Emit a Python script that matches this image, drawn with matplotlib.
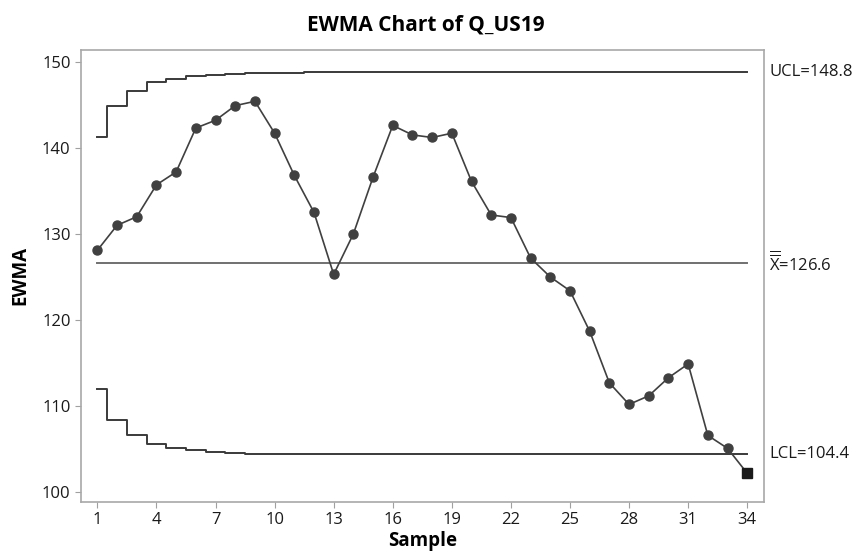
import matplotlib
matplotlib.use("Agg")
import matplotlib.pyplot as plt
import matplotlib.transforms as mtransforms

plt.rcParams['font.family'] = ['Open Sans', 'DejaVu Sans']
plt.rcParams['mathtext.fontset'] = 'custom'
plt.rcParams['mathtext.rm'] = 'Open Sans'

# data
samples = list(range(1, 35))
ewma = [128.1, 131.0, 132.0, 135.7, 137.2, 142.3, 143.2, 144.9, 145.4, 141.7,
        136.8, 132.5, 125.3, 130.0, 136.6, 142.6, 141.5, 141.2, 141.7, 136.1,
        132.2, 131.9, 127.2, 125.0, 123.4, 118.7, 112.7, 110.2, 111.2, 113.3,
        114.9, 106.6, 105.1, 102.2]
ucl = [141.2, 144.8, 146.6, 147.6, 148.0, 148.3, 148.5, 148.6, 148.7, 148.7,
       148.7] + [148.8] * 23
lcl = [112.0, 108.4, 106.6, 105.6, 105.1, 104.9, 104.7, 104.6, 104.5, 104.5,
       104.5] + [104.4] * 23
center = 126.6
ucl_lab = "UCL=148.8"
cl_lab = r"$\overline{\overline{\mathrm{X}}}$=126.6"
lcl_lab = "LCL=104.4"
xticks = [1, 4, 7, 10, 13, 16, 19, 22, 25, 28, 31, 34]
yticks = [100, 110, 120, 130, 140, 150]

fig = plt.figure(figsize=(8.61, 5.6), dpi=100)
ax = fig.add_axes([0.0941, 0.1036, 0.7932, 0.8071])

ax.step(samples, ucl, where='mid', color='#3a3a3a', lw=1.4)
ax.step(samples, lcl, where='mid', color='#3a3a3a', lw=1.4)
ax.plot([samples[0], samples[-1]], [center, center], color='#707070', lw=1.4)

ax.plot(samples, ewma, color='#404040', lw=1.2, marker='o', ms=6.5,
        mfc='#404040', mec='#404040', zorder=3)
# out-of-control point drawn as a square
ax.plot(samples[-1], ewma[-1], marker='s', ms=7, color='#1a1a1a', zorder=4)

ax.set_xlim(0.17, 34.85)
ax.set_ylim(98.87, 151.36)
ax.set_xticks(xticks)
ax.set_yticks(yticks)
ax.tick_params(direction='out', length=4, color='#a0a0a0', labelsize=12,
               labelcolor='#1a1a1a')
for s in ax.spines.values():
    s.set_color('#a8a8a8')
    s.set_linewidth(1.2)

trans = mtransforms.blended_transform_factory(ax.transAxes, ax.transData)
for y, lab in [(148.8, ucl_lab), (center, cl_lab), (104.4, lcl_lab)]:
    ax.text(1.008, y, lab, transform=trans, va='center', ha='left',
            fontsize=12, color='#1a1a1a')

ax.set_xlabel('Sample', fontsize=13.5, fontweight='bold', labelpad=2)
ax.set_ylabel('EWMA', fontsize=13.5, fontweight='bold', labelpad=8)
fig.suptitle('EWMA Chart of Q_US19', x=0.494, y=0.975, fontsize=15,
             fontweight='bold')

fig.savefig('out.png', dpi=100)
